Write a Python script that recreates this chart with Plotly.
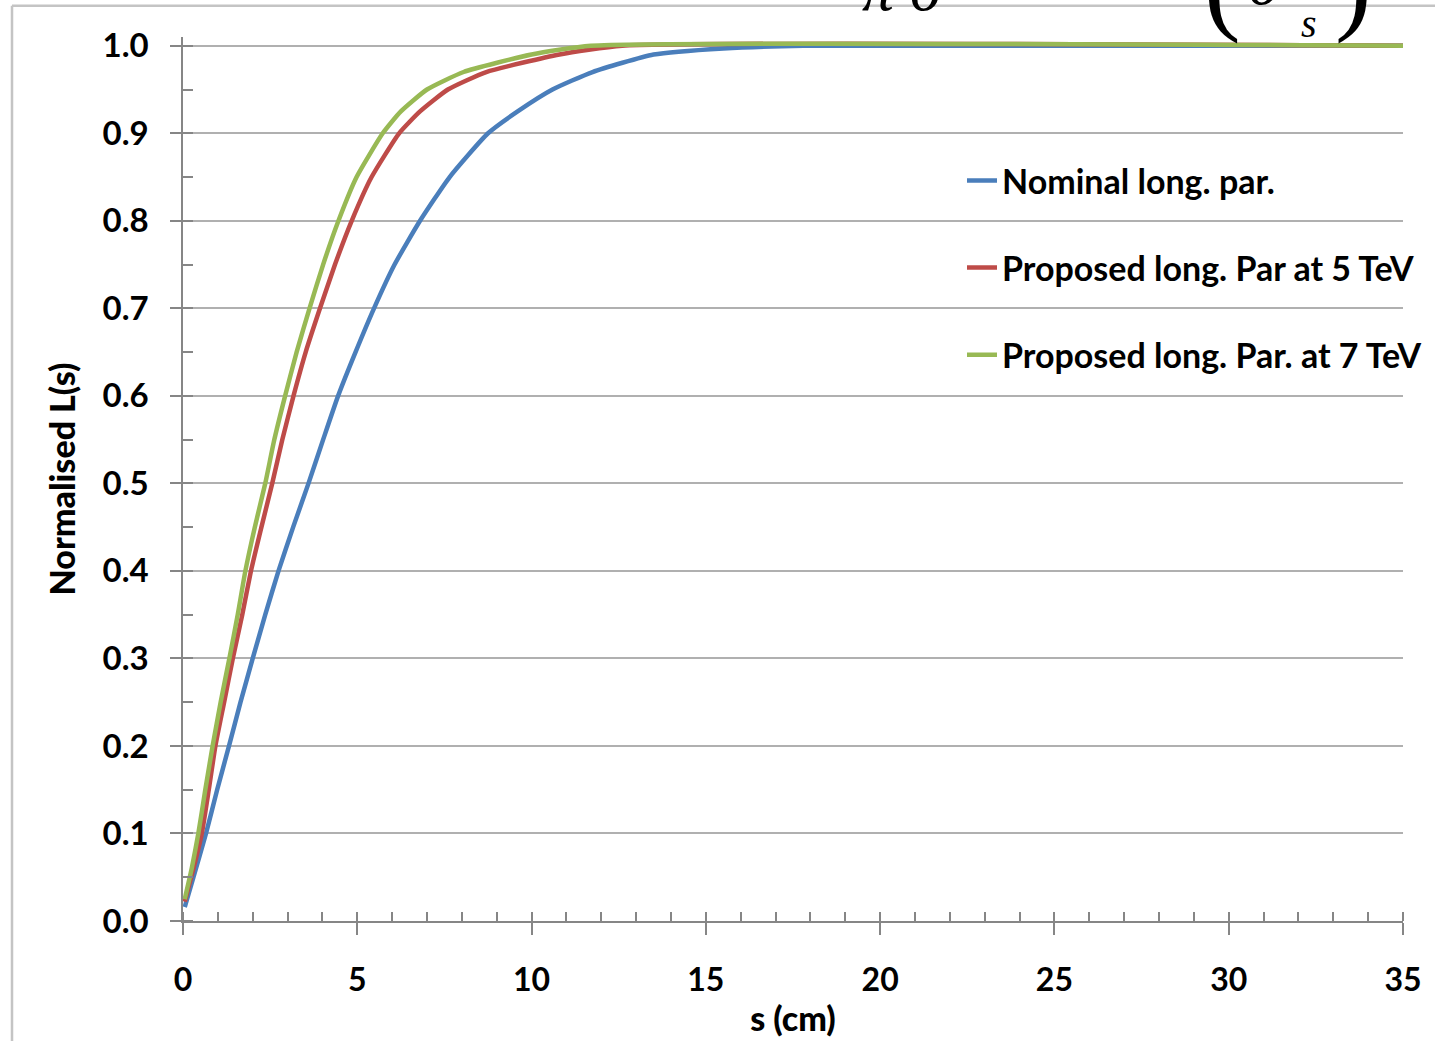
import plotly.graph_objects as go

# ---- data ----
nominal_s = [0.05, 0.3, 0.66, 0.98, 1.32, 1.65, 2.0, 2.36, 2.74, 3.16, 3.6, 4.02, 4.45, 4.95, 5.48,
             6.07, 6.8, 7.65, 8.75, 9.6, 10.6, 11.75, 13.5, 15.5, 17.8, 35.0]
nominal_L = [0.016, 0.05, 0.10, 0.15, 0.20, 0.25, 0.30, 0.35, 0.40, 0.45, 0.50, 0.55, 0.60, 0.65, 0.70,
             0.75, 0.80, 0.85, 0.90, 0.925, 0.95, 0.97, 0.99, 0.997, 1.0, 1.0]

p5_s = [0.05, 0.3, 0.54, 0.74, 0.93, 1.18, 1.43, 1.70, 1.95, 2.25, 2.56, 2.85, 3.17, 3.52, 3.93,
        4.36, 4.84, 5.41, 6.2, 6.8, 7.6, 8.7, 10.8, 12.6, 35.0]
p5_L = [0.022, 0.06, 0.10, 0.15, 0.20, 0.25, 0.30, 0.35, 0.40, 0.45, 0.50, 0.55, 0.60, 0.65, 0.70,
        0.75, 0.80, 0.85, 0.90, 0.925, 0.95, 0.97, 0.99, 1.0, 1.0]

p7_s = [0.05, 0.25, 0.44, 0.64, 0.85, 1.08, 1.33, 1.57, 1.79, 2.06, 2.36, 2.62, 2.93, 3.26, 3.63,
        4.02, 4.46, 4.98, 5.73, 6.25, 7.0, 8.05, 10.0, 11.7, 35.0]
p7_L = [0.025, 0.06, 0.10, 0.15, 0.20, 0.25, 0.30, 0.35, 0.40, 0.45, 0.50, 0.55, 0.60, 0.65, 0.70,
        0.75, 0.80, 0.85, 0.90, 0.925, 0.95, 0.97, 0.99, 1.0, 1.0]

series_names = ["Nominal long. par.", "Proposed long. Par at 5 TeV", "Proposed long. Par. at 7 TeV"]
series_colors = ["#4a7ebb", "#be4b48", "#98b954"]

x_ticks = [0, 5, 10, 15, 20, 25, 30, 35]
y_ticks = [0.0, 0.1, 0.2, 0.3, 0.4, 0.5, 0.6, 0.7, 0.8, 0.9, 1.0]

W, H = 1435, 1041
L_M, R_M, T_M, B_M = 183, 32, 37.25, 120
PW = W - L_M - R_M
PH = H - T_M - B_M

def px(xp):
    return (xp - L_M) / PW

def py(yp):
    return (H - B_M - yp) / PH

FONT = "Lato"
AX = "#868686"

fig = go.Figure()
for xs, ys, name, col in zip([nominal_s, p5_s, p7_s], [nominal_L, p5_L, p7_L], series_names, series_colors):
    fig.add_trace(go.Scatter(
        x=xs, y=ys, mode="lines", name=name, legendgroup=name,
        line=dict(color=col, width=4.5, shape="spline", smoothing=0.5),
    ))

fig.update_layout(
    width=W, height=H,
    margin=dict(l=L_M, r=R_M, t=T_M, b=B_M, autoexpand=False),
    paper_bgcolor="white", plot_bgcolor="white",
    font=dict(family=FONT, color="black"),
    showlegend=True,
    legend=dict(
        x=px(962), y=py(152), xanchor="left", yanchor="top",
        bgcolor="rgba(0,0,0,0)", borderwidth=0,
        font=dict(family=FONT, size=34, color="black", weight="bold"),
        traceorder="grouped", tracegroupgap=40,
    ),
    xaxis=dict(
        range=[0, 35], tickvals=x_ticks, ticktext=[str(v) for v in x_ticks],
        ticks="outside", ticklen=12, tickwidth=1.5, tickcolor=AX,
        minor=dict(ticks="inside", dtick=1, ticklen=9, tickwidth=1.5, tickcolor=AX, showgrid=False),
        showline=True, linecolor=AX, linewidth=1.5,
        showgrid=False, zeroline=False,
        tickfont=dict(family=FONT, size=32, color="black", weight="bold"),
        ticklabelstandoff=18,
        title=dict(text="s (cm)", font=dict(family=FONT, size=34, color="black", weight=900), standoff=10),
        automargin=False,
    ),
    xaxis2=dict(
        overlaying="x", matches="x", side="bottom", anchor="y",
        tickvals=x_ticks, ticks="inside", ticklen=9, tickwidth=1.5, tickcolor=AX,
        showticklabels=False, showline=False, showgrid=False, zeroline=False,
    ),
    yaxis=dict(
        range=[0, 1.01], tickvals=y_ticks, ticktext=[f"{v:.1f}" for v in y_ticks],
        ticks="outside", ticklen=11, tickwidth=1.5, tickcolor=AX,
        minor=dict(ticks="inside", dtick=0.05, tick0=0.05, ticklen=10, tickwidth=1.5, tickcolor=AX, showgrid=False),
        showline=True, linecolor=AX, linewidth=1.5,
        showgrid=True, gridcolor="#b0b0b0", gridwidth=1.5, zeroline=False,
        tickfont=dict(family=FONT, size=33, color="black", weight="bold"),
        ticklabelstandoff=15,
        title=dict(text="Normalised L(s)", font=dict(family=FONT, size=34, color="black", weight=900), standoff=17),
        automargin=False,
    ),
)

# slide frame (left and top border)
fig.add_shape(type="line", xref="paper", yref="paper", x0=px(12), x1=px(12), y0=py(6), y1=py(H),
              line=dict(color="#c4c4c4", width=2.5))
fig.add_shape(type="line", xref="paper", yref="paper", x0=px(12), x1=px(W), y0=py(6), y1=py(6),
              line=dict(color="#c4c4c4", width=2.5))

# cropped bits of the formula above the chart
SERIF = "Liberation Serif"
fig.add_annotation(text="π σ", xref="paper", yref="paper", x=px(903), y=py(26), xanchor="center", yanchor="bottom",
                   showarrow=False, font=dict(family=SERIF, size=64, color="black", style="italic"))
fig.add_annotation(text="(", xref="paper", yref="paper", x=px(1222), y=py(46), xanchor="center", yanchor="bottom",
                   showarrow=False, font=dict(family=SERIF, size=110, color="black"))
fig.add_annotation(text="σ", xref="paper", yref="paper", x=px(1265), y=py(20), xanchor="center", yanchor="bottom",
                   showarrow=False, font=dict(family=SERIF, size=64, color="black", style="italic"))
fig.add_annotation(text="s", xref="paper", yref="paper", x=px(1309), y=py(48), xanchor="center", yanchor="bottom",
                   showarrow=False, font=dict(family=SERIF, size=40, color="black", style="italic"))
fig.add_annotation(text=")", xref="paper", yref="paper", x=px(1353), y=py(46), xanchor="center", yanchor="bottom",
                   showarrow=False, font=dict(family=SERIF, size=110, color="black"))

fig.write_html("out.html")
